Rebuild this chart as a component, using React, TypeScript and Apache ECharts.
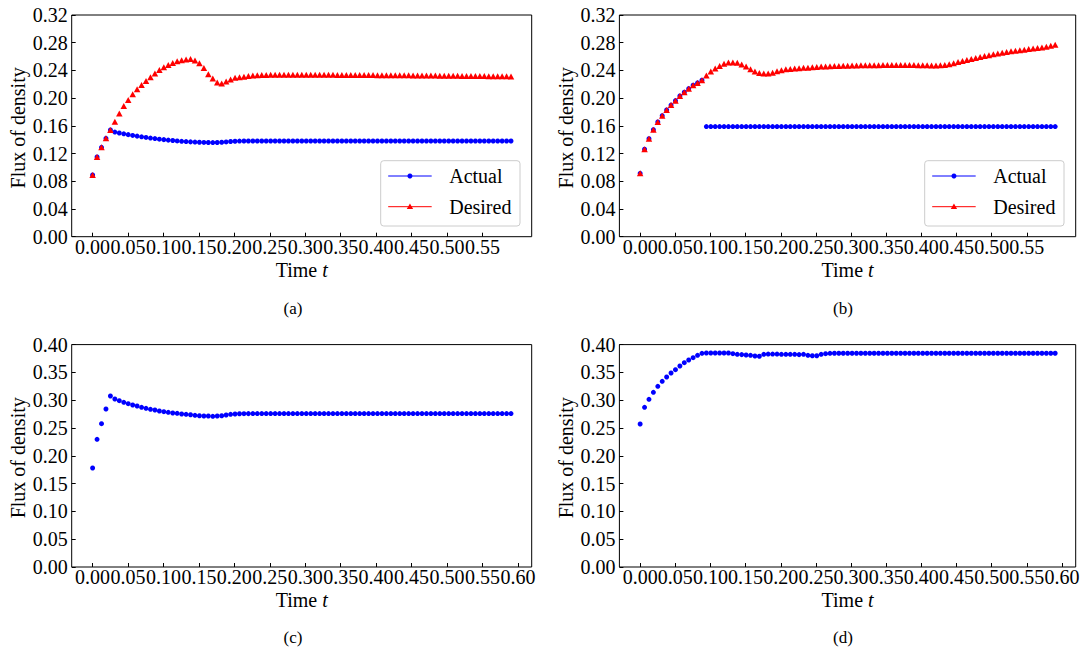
import React, { useEffect, useRef } from "react";
import * as echarts from "echarts";

// ---------- data ----------
const T_STEP = 0.00628; // sampling step of time t
const N_POINTS = 95;

const xTicksAB = [0, 0.05, 0.1, 0.15, 0.2, 0.25, 0.3, 0.35, 0.4, 0.45, 0.5, 0.55];
const xTicksCD = [0, 0.05, 0.1, 0.15, 0.2, 0.25, 0.3, 0.35, 0.4, 0.45, 0.5, 0.55, 0.6];

const actualA = [
  0.089, 0.115, 0.129, 0.142, 0.154, 0.151, 0.1497, 0.1485, 0.1473, 0.1462,
  0.1452, 0.1442, 0.1433, 0.1424, 0.1416, 0.1408, 0.1401, 0.1394, 0.1388, 0.1382,
  0.1377, 0.1373, 0.1369, 0.1366, 0.1363, 0.1361, 0.136, 0.1359, 0.136, 0.1363,
  0.1368, 0.1374, 0.1378, 0.138, 0.1381, 0.1381, 0.1381, 0.1381, 0.1381, 0.1381,
  0.1381, 0.1381, 0.1381, 0.1381, 0.1381, 0.1381, 0.1381, 0.1381, 0.1381, 0.1381,
  0.1381, 0.1381, 0.1381, 0.1381, 0.1381, 0.1381, 0.1381, 0.1381, 0.1381, 0.1381,
  0.1381, 0.1381, 0.1381, 0.1381, 0.1381, 0.1381, 0.1381, 0.1381, 0.1381, 0.1381,
  0.1381, 0.1381, 0.1381, 0.1381, 0.1381, 0.1381, 0.1381, 0.1381, 0.1381, 0.1381,
  0.1381, 0.1381, 0.1381, 0.1381, 0.1381, 0.1381, 0.1381, 0.1381, 0.1381, 0.1381,
  0.1381, 0.1381, 0.1381, 0.1381, 0.1381,
];
const desiredA = [
  0.089, 0.115, 0.129, 0.142, 0.154, 0.166, 0.178, 0.1887, 0.1974, 0.2056,
  0.2128, 0.219, 0.2248, 0.23, 0.2354, 0.2407, 0.2446, 0.248, 0.2508, 0.2532,
  0.2547, 0.2558, 0.2565, 0.2545, 0.2505, 0.2435, 0.2346, 0.2284, 0.2226, 0.221,
  0.224, 0.227, 0.2293, 0.2303, 0.231, 0.2318, 0.2325, 0.233, 0.2333, 0.2335,
  0.2336, 0.2337, 0.2337, 0.2337, 0.2337, 0.2337, 0.2337, 0.2337, 0.2337, 0.2337,
  0.2337, 0.2337, 0.2336, 0.2336, 0.2336, 0.2335, 0.2335, 0.2335, 0.2335, 0.2334,
  0.2334, 0.2333, 0.2333, 0.2333, 0.2332, 0.2332, 0.2331, 0.2331, 0.233, 0.233,
  0.2329, 0.2329, 0.2328, 0.2328, 0.2327, 0.2326, 0.2326, 0.2325, 0.2324, 0.2324,
  0.2323, 0.2322, 0.2322, 0.2321, 0.232, 0.232, 0.2319, 0.2318, 0.2318, 0.2317,
  0.2316, 0.2316, 0.2315, 0.2315, 0.2314,
];
const actualB = [
  0.0915, 0.1262, 0.1415, 0.1545, 0.1656, 0.1747, 0.183, 0.19, 0.1964, 0.2032,
  0.2085, 0.2137, 0.2186, 0.222, 0.2258, 0.159, 0.159, 0.159, 0.159, 0.159,
  0.159, 0.159, 0.159, 0.159, 0.159, 0.159, 0.159, 0.159, 0.159, 0.159,
  0.159, 0.159, 0.159, 0.159, 0.159, 0.159, 0.159, 0.159, 0.159, 0.159,
  0.159, 0.159, 0.159, 0.159, 0.159, 0.159, 0.159, 0.159, 0.159, 0.159,
  0.159, 0.159, 0.159, 0.159, 0.159, 0.159, 0.159, 0.159, 0.159, 0.159,
  0.159, 0.159, 0.159, 0.159, 0.159, 0.159, 0.159, 0.159, 0.159, 0.159,
  0.159, 0.159, 0.159, 0.159, 0.159, 0.159, 0.159, 0.159, 0.159, 0.159,
  0.159, 0.159, 0.159, 0.159, 0.159, 0.159, 0.159, 0.159, 0.159, 0.159,
  0.159, 0.159, 0.159, 0.159, 0.159,
];
const desiredB = [
  0.0915, 0.1262, 0.1415, 0.1545, 0.1656, 0.1747, 0.183, 0.19, 0.1964, 0.2032,
  0.2085, 0.2137, 0.2186, 0.222, 0.2258, 0.2325, 0.2383, 0.2426, 0.2465, 0.2498,
  0.2513, 0.2513, 0.251, 0.2484, 0.2455, 0.2417, 0.2383, 0.2364, 0.2354, 0.2354,
  0.2368, 0.2388, 0.2403, 0.2417, 0.2422, 0.2426, 0.2432, 0.2437, 0.244, 0.2445,
  0.245, 0.2455, 0.2458, 0.246, 0.2463, 0.2465, 0.2467, 0.2469, 0.247, 0.2472,
  0.2473, 0.2474, 0.2475, 0.2476, 0.2476, 0.2477, 0.2477, 0.2478, 0.2478, 0.2478,
  0.2478, 0.2478, 0.2477, 0.2476, 0.2475, 0.2473, 0.2472, 0.2472, 0.2474, 0.2478,
  0.249, 0.2505, 0.252, 0.2535, 0.255, 0.2565, 0.258, 0.2595, 0.2608, 0.262,
  0.2633, 0.2645, 0.2656, 0.2666, 0.2676, 0.2685, 0.2693, 0.27, 0.2708, 0.2715,
  0.2723, 0.2732, 0.2742, 0.2755, 0.2772,
];
const actualC = [
  0.178, 0.2296, 0.2578, 0.2842, 0.3076, 0.3022, 0.2991, 0.2962, 0.2937, 0.2914,
  0.2896, 0.2872, 0.2854, 0.2836, 0.2824, 0.2806, 0.2794, 0.2782, 0.277, 0.2764,
  0.2752, 0.2746, 0.2739, 0.2728, 0.2721, 0.2716, 0.2716, 0.271, 0.2716, 0.2721,
  0.2734, 0.2746, 0.2752, 0.2757, 0.2758, 0.2759, 0.276, 0.276, 0.276, 0.276,
  0.276, 0.276, 0.276, 0.276, 0.276, 0.276, 0.276, 0.276, 0.276, 0.276,
  0.276, 0.276, 0.276, 0.276, 0.276, 0.276, 0.276, 0.276, 0.276, 0.276,
  0.276, 0.276, 0.276, 0.276, 0.276, 0.276, 0.276, 0.276, 0.276, 0.276,
  0.276, 0.276, 0.276, 0.276, 0.276, 0.276, 0.276, 0.276, 0.276, 0.276,
  0.276, 0.276, 0.276, 0.276, 0.276, 0.276, 0.276, 0.276, 0.276, 0.276,
  0.276, 0.276, 0.276, 0.276, 0.276,
];
const actualD = [
  0.2572, 0.2872, 0.3016, 0.3142, 0.325, 0.334, 0.3417, 0.3489, 0.3549, 0.3615,
  0.3675, 0.3723, 0.3765, 0.3807, 0.3843, 0.3849, 0.3849, 0.3849, 0.3849, 0.3849,
  0.3849, 0.3837, 0.3825, 0.382, 0.3813, 0.3807, 0.3795, 0.379, 0.3825, 0.383,
  0.383, 0.383, 0.3825, 0.3825, 0.3825, 0.3825, 0.382, 0.3825, 0.3807, 0.38,
  0.38, 0.3825, 0.3837, 0.3843, 0.3845, 0.3845, 0.3845, 0.3845, 0.3845, 0.3845,
  0.3845, 0.3845, 0.3845, 0.3845, 0.3845, 0.3845, 0.3845, 0.3845, 0.3845, 0.3845,
  0.3845, 0.3845, 0.3845, 0.3845, 0.3845, 0.3845, 0.3845, 0.3845, 0.3845, 0.3845,
  0.3845, 0.3845, 0.3845, 0.3845, 0.3845, 0.3845, 0.3845, 0.3845, 0.3845, 0.3845,
  0.3845, 0.3845, 0.3845, 0.3845, 0.3845, 0.3845, 0.3845, 0.3845, 0.3845, 0.3845,
  0.3845, 0.3845, 0.3845, 0.3845, 0.3845,
];

const times = Array.from({ length: N_POINTS }, (_, i) => i * T_STEP);
const pairs = (vals: number[]) => vals.map((v, i) => [times[i], v]);

// ---------- layout ----------
const FONT = '"Liberation Serif", "Times New Roman", serif';
const BLUE = "#0000ff";
const RED = "#ff0000";

const panels = [
  { left: 71.7, top: 15, width: 460, height: 221.7, ymax: 0.32, ystep: 0.04, ticks: xTicksAB, caption: "(a)", capX: 293, capY: 308, actual: actualA, desired: desiredA },
  { left: 619.4, top: 15, width: 456.3, height: 221.7, ymax: 0.32, ystep: 0.04, ticks: xTicksAB, caption: "(b)", capX: 843, capY: 308, actual: actualB, desired: desiredB },
  { left: 71.7, top: 344.6, width: 460, height: 222.4, ymax: 0.4, ystep: 0.05, ticks: xTicksCD, caption: "(c)", capX: 293, capY: 637, actual: actualC, desired: null },
  { left: 619.4, top: 344.6, width: 456.3, height: 222.4, ymax: 0.4, ystep: 0.05, ticks: xTicksCD, caption: "(d)", capX: 843, capY: 637, actual: actualD, desired: null },
];

function textEl(text: string, x: number, y: number, size: number, opts: any = {}) {
  return {
    type: "text",
    x,
    y,
    rotation: opts.rotation || 0,
    z: 100,
    style: {
      text,
      fontFamily: FONT,
      fontSize: size,
      lineHeight: opts.lineHeight || size,
      fill: "#000",
      align: opts.align || "center",
      textAlign: opts.align || "center",
      verticalAlign: "middle",
      textVerticalAlign: "middle",
      rich: opts.rich,
    },
  };
}

function legendEls(p: any) {
  const right = p.left + p.width - 11.7;
  const bottom = p.top + p.height - 10.7;
  const w = 139.3;
  const h = 65.3;
  const x0 = right - w;
  const y0 = bottom - h;
  const y1 = y0 + 15.3;
  const y2 = y0 + 46;
  const lx1 = x0 + 7.5;
  const lx2 = x0 + 51;
  const mx = (lx1 + lx2) / 2;
  const tx = x0 + 68.5;
  return [
    {
      type: "rect",
      z: 100,
      shape: { x: x0, y: y0, width: w, height: h, r: 3 },
      style: { fill: "rgba(255,255,255,0.8)", stroke: "#cccccc", lineWidth: 1 },
    },
    { type: "line", z: 101, shape: { x1: lx1, y1, x2: lx2, y2: y1 }, style: { stroke: BLUE, lineWidth: 1 } },
    { type: "circle", z: 102, shape: { cx: mx, cy: y1, r: 2.5 }, style: { fill: BLUE } },
    { type: "line", z: 101, shape: { x1: lx1, y1: y2, x2: lx2, y2 }, style: { stroke: RED, lineWidth: 1 } },
    {
      type: "polygon",
      z: 102,
      shape: { points: [[mx, y2 - 3.3], [mx - 3.2, y2 + 2.4], [mx + 3.2, y2 + 2.4]] },
      style: { fill: RED },
    },
    textEl("Actual", tx, y1, 20, { align: "left", lineHeight: 16 }),
    textEl("Desired", tx, y2, 20, { align: "left", lineHeight: 16 }),
  ];
}

export default function App() {
  const ref = useRef<HTMLDivElement>(null);

  useEffect(() => {
    document.body.style.margin = "0";
    const chart = echarts.init(ref.current!, null, { renderer: "svg" });

    const grids = panels.map((p) => ({
      left: p.left,
      top: p.top,
      width: p.width,
      height: p.height,
    }));

    const xAxes = panels.map((p, i) => ({
      type: "value",
      gridIndex: i,
      min: -0.0295,
      max: 0.6195,
      axisLine: { show: false, onZero: false },
      splitLine: { show: false },
      axisTick: { show: true, inside: true, length: 4, lineStyle: { color: "#000" }, customValues: p.ticks },
      axisLabel: {
        customValues: p.ticks,
        formatter: (v: number) => v.toFixed(2),
        fontFamily: FONT,
        fontSize: 20,
        lineHeight: 14,
        color: "#000",
        margin: 3,
      },
    }));

    const yAxes = panels.map((p, i) => ({
      type: "value",
      gridIndex: i,
      min: 0,
      max: p.ymax,
      interval: p.ystep,
      axisLine: { show: false, onZero: false },
      splitLine: { show: false },
      axisTick: { show: true, inside: true, length: 4, lineStyle: { color: "#000" } },
      axisLabel: {
        formatter: (v: number) => v.toFixed(2),
        fontFamily: FONT,
        fontSize: 20,
        lineHeight: 14,
        color: "#000",
        margin: 4,
      },
    }));

    const series: any[] = [];
    panels.forEach((p, i) => {
      series.push({
        name: "Actual",
        type: "scatter",
        xAxisIndex: i,
        yAxisIndex: i,
        data: pairs(p.actual),
        symbol: "circle",
        symbolSize: 5,
        itemStyle: { color: BLUE, opacity: 1 },
        z: 2,
      });
      if (p.desired) {
        series.push({
          name: "Desired",
          type: "scatter",
          xAxisIndex: i,
          yAxisIndex: i,
          data: pairs(p.desired),
          symbol: "triangle",
          symbolSize: [6.5, 6],
          itemStyle: { color: RED, opacity: 1 },
          z: 3,
        });
      }
    });

    const graphics: any[] = [];
    panels.forEach((p) => {
      graphics.push({
        type: "rect",
        z: 90,
        silent: true,
        shape: { x: p.left, y: p.top, width: p.width, height: p.height },
        style: { fill: "none", stroke: "#000", lineWidth: 1 },
      });
      graphics.push(
        textEl("Flux of density", p.left - 53.5, p.top + p.height / 2 + 2, 20, { rotation: Math.PI / 2, lineHeight: 16 })
      );
      graphics.push(
        textEl("Time {i|t}", p.left + p.width / 2, p.top + p.height + 33, 20, {
          lineHeight: 16,
          rich: { i: { fontStyle: "italic", fontFamily: FONT, fontSize: 20, lineHeight: 16 } },
        })
      );
      graphics.push(textEl(p.caption, p.capX, p.capY, 17));
      if (p.desired) graphics.push(...legendEls(p));
    });

    chart.setOption({
      animation: false,
      backgroundColor: "#fff",
      grid: grids,
      xAxis: xAxes,
      yAxis: yAxes,
      series,
      graphic: { elements: graphics },
    });

    return () => chart.dispose();
  }, []);

  return <div ref={ref} style={{ width: 1090, height: 650 }} />;
}
